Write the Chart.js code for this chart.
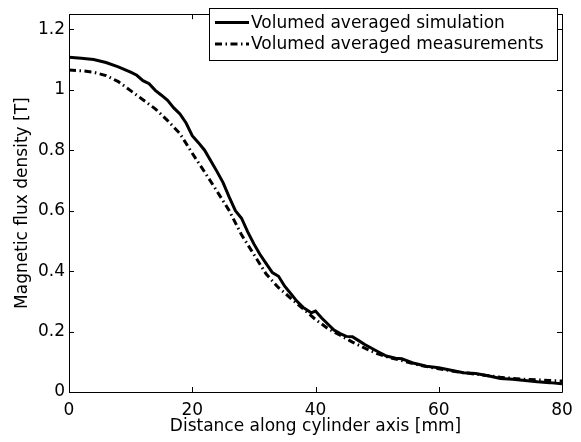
<!DOCTYPE html>
<html>
<head>
<meta charset="utf-8">
<script src="https://cdn.jsdelivr.net/npm/chart.js@4"></script>
<style>
html,body{margin:0;padding:0;background:#fff;}
#c{display:block;}
</style>
</head>
<body>
<canvas id="c" width="581" height="442"></canvas>
<script>
const simDistance = [0,2,4,6,8,10,11,12,13,14,15,16,17,18,19,20,21,22,23,24,25,26,27,28,29,30,31,32,33,34,35,36,37,38,39.3,40,41,42,43,44,45,46,47,48,50,51.5,53,54,56,58,60,62,64,66,68,70,72,74,76,78,80];
const simValues = [1.108,1.104,1.100,1.090,1.076,1.058,1.048,1.030,1.020,0.998,0.982,0.965,0.940,0.920,0.890,0.848,0.825,0.800,0.765,0.730,0.693,0.645,0.600,0.575,0.530,0.490,0.455,0.425,0.395,0.383,0.350,0.325,0.300,0.280,0.262,0.268,0.245,0.225,0.205,0.193,0.184,0.183,0.170,0.157,0.135,0.119,0.112,0.110,0.095,0.085,0.080,0.072,0.064,0.061,0.054,0.045,0.042,0.038,0.034,0.031,0.027];
const measDistance = [0,2,4,6,8,10,12,14,16,18,20,22,24,26,28,30,32,34,36,38,40,42,44,46,48,50,52,54,56,58,60,62,64,66,68,70,72,74,76,78,80];
const measValues = [1.065,1.063,1.058,1.047,1.027,0.997,0.967,0.937,0.898,0.855,0.790,0.728,0.665,0.600,0.520,0.455,0.390,0.345,0.310,0.275,0.240,0.210,0.188,0.165,0.145,0.127,0.114,0.104,0.093,0.084,0.077,0.070,0.064,0.059,0.054,0.049,0.045,0.042,0.040,0.038,0.036];
const seriesLabels = ["Volumed averaged simulation","Volumed averaged measurements"];
const xTicks = [0,20,40,60,80];
const yTicks = [0,0.2,0.4,0.6,0.8,1,1.2];
const xTitle = "Distance along cylinder axis [mm]";
const yTitle = "Magnetic flux density [T]";

const FONT = "'DejaVu Sans', sans-serif";

const framePlugin = {
  id: 'frame',
  afterDraw(chart) {
    const {ctx, chartArea: a, scales: {x, y}} = chart;
    ctx.save();
    ctx.strokeStyle = '#000';
    ctx.lineWidth = 1;
    ctx.beginPath();
    ctx.rect(Math.round(a.left) + 0.5, Math.round(a.top) + 0.5, Math.round(a.right - a.left), Math.round(a.bottom - a.top));
    ctx.stroke();
    const L = 5;
    ctx.beginPath();
    xTicks.forEach(v => {
      const px = Math.round(x.getPixelForValue(v)) + 0.5;
      ctx.moveTo(px, a.bottom); ctx.lineTo(px, a.bottom - L);
      ctx.moveTo(px, a.top); ctx.lineTo(px, a.top + L);
    });
    yTicks.forEach(v => {
      const py = Math.round(y.getPixelForValue(v)) + 0.5;
      ctx.moveTo(a.left, py); ctx.lineTo(a.left + L, py);
      ctx.moveTo(a.right, py); ctx.lineTo(a.right - L, py);
    });
    ctx.stroke();

    // legend
    const lx = 209.5, ly = 8.5, lw = 348, lh = 52;
    ctx.fillStyle = '#fff';
    ctx.fillRect(lx, ly, lw, lh);
    ctx.strokeRect(lx, ly, lw, lh);
    const rows = [22.5, 44];
    chart.data.datasets.forEach((ds, i) => {
      const yy = rows[i];
      ctx.save();
      ctx.strokeStyle = ds.borderColor;
      ctx.lineWidth = ds.borderWidth;
      ctx.setLineDash(ds.borderDash || []);
      ctx.beginPath();
      ctx.moveTo(215, yy); ctx.lineTo(249, yy);
      ctx.stroke();
      ctx.restore();
      ctx.fillStyle = '#000';
      ctx.font = '17px ' + FONT;
      ctx.textBaseline = 'middle';
      ctx.textAlign = 'left';
      ctx.fillText(ds.label, 251, yy + 1);
    });
    ctx.restore();
  }
};

new Chart(document.getElementById('c'), {
  type: 'line',
  data: {
    datasets: [
      {
        label: seriesLabels[0],
        data: simDistance.map((d, i) => ({x: d, y: simValues[i]})),
        borderColor: '#000',
        borderWidth: 3,
        pointRadius: 0,
        tension: 0,
        fill: false
      },
      {
        label: seriesLabels[1],
        data: measDistance.map((d, i) => ({x: d, y: measValues[i]})),
        borderColor: '#000',
        borderWidth: 3,
        borderDash: [7, 3.5, 1.5, 3.5],
        pointRadius: 0,
        tension: 0,
        fill: false
      }
    ]
  },
  options: {
    responsive: false,
    animation: false,
    devicePixelRatio: 1,
    layout: {padding: {left: 0, right: 19, top: 3, bottom: 0}},
    plugins: {legend: {display: false}, tooltip: {enabled: false}},
    scales: {
      x: {
        type: 'linear', min: 0, max: 80,
        afterBuildTicks: s => { s.ticks = xTicks.map(v => ({value: v})); },
        afterFit: s => { s.height = 50; },
        grid: {display: false, drawTicks: false},
        border: {display: false},
        ticks: {color: '#000', font: {family: FONT, size: 17}, padding: 8, maxRotation: 0},
        title: {display: true, text: xTitle, color: '#000', font: {family: FONT, size: 17}, padding: {top: 0, bottom: 5}}
      },
      y: {
        type: 'linear', min: 0, max: 1.25,
        afterBuildTicks: s => { s.ticks = yTicks.map(v => ({value: v})); },
        afterFit: s => { s.width = 69; },
        grid: {display: false, drawTicks: false},
        border: {display: false},
        ticks: {color: '#000', font: {family: FONT, size: 17}, padding: 4, callback: v => String(v)},
        title: {display: true, text: yTitle, color: '#000', font: {family: FONT, size: 17}, padding: {top: 12, bottom: 0}}
      }
    }
  },
  plugins: [framePlugin]
});
</script>
</body>
</html>
